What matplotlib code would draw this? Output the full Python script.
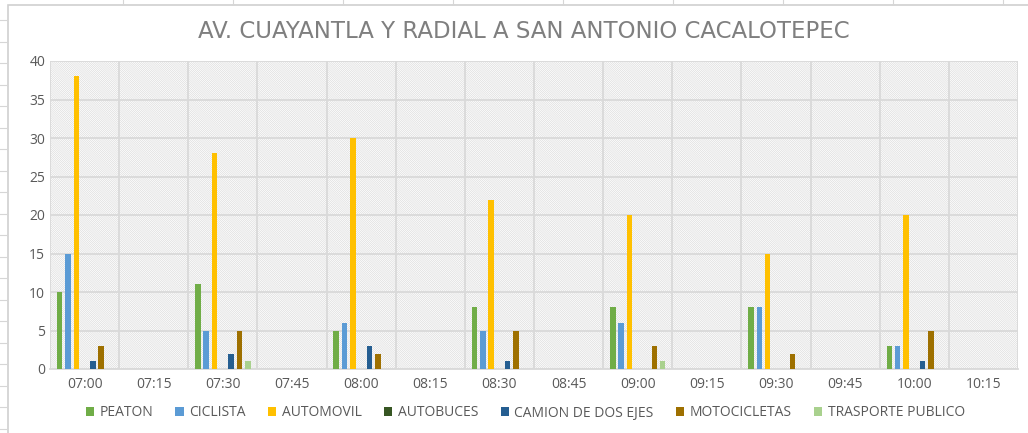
import numpy as np
import matplotlib
matplotlib.use("Agg")
import matplotlib.pyplot as plt
from matplotlib.patches import Rectangle
from matplotlib.lines import Line2D

plt.rcParams['font.family'] = ['Open Sans', 'DejaVu Sans']

# data
horas = ["07:00", "07:15", "07:30", "07:45", "08:00", "08:15", "08:30",
         "08:45", "09:00", "09:15", "09:30", "09:45", "10:00", "10:15"]
peaton = [10, 0, 11, 0, 5, 0, 8, 0, 8, 0, 8, 0, 3, 0]
ciclista = [15, 0, 5, 0, 6, 0, 5, 0, 6, 0, 8, 0, 3, 0]
automovil = [38, 0, 28, 0, 30, 0, 22, 0, 20, 0, 15, 0, 20, 0]
autobuces = [0, 0, 0, 0, 0, 0, 0, 0, 0, 0, 0, 0, 0, 0]
camion = [1, 0, 2, 0, 3, 0, 1, 0, 0, 0, 0, 0, 1, 0]
motos = [3, 0, 5, 0, 2, 0, 5, 0, 3, 0, 2, 0, 5, 0]
trasporte = [0, 0, 1, 0, 0, 0, 0, 0, 1, 0, 0, 0, 0, 0]

series = ["PEATON", "CICLISTA", "AUTOMOVIL", "AUTOBUCES",
          "CAMION DE DOS EJES", "MOTOCICLETAS", "TRASPORTE PUBLICO"]
valores = [peaton, ciclista, automovil, autobuces, camion, motos, trasporte]
colores = ["#70AD47", "#5B9BD5", "#FFC000", "#375623",
           "#255E91", "#9E7000", "#A9D18E"]

fig = plt.figure(figsize=(10.28, 4.33), dpi=100)
ax = fig.add_axes([50 / 1028, 64 / 433, 968 / 1028, 308 / 433])

# spreadsheet remnants and chart border
fig.add_artist(Rectangle((8 / 1028, -0.1), 1.2, (433 - 5) / 433 + 0.1,
                         transform=fig.transFigure, fill=False,
                         edgecolor="#d0d0d0", linewidth=1.2))
for yy in np.arange(20, 433, 21.5):
    fig.add_artist(Line2D([0, 6 / 1028], [1 - yy / 433] * 2,
                          transform=fig.transFigure, color="#d6d6d6", lw=0.8))
for xx in np.arange(123, 1028, 110):
    fig.add_artist(Line2D([xx / 1028] * 2, [1, 1 - 4 / 433],
                          transform=fig.transFigure, color="#d6d6d6", lw=0.8))

# hatched plot background
plt.rcParams['hatch.color'] = "#dadada"
plt.rcParams['hatch.linewidth'] = 0.45
ax.add_patch(Rectangle((0, 0), 1, 1, transform=ax.transAxes,
                       facecolor="white", hatch="\\" * 16,
                       edgecolor="#dadada", linewidth=0, zorder=0))

x = np.arange(len(horas))
paso = 0.12
ancho = 0.08
for i, (nombre, vals, c) in enumerate(zip(series, valores, colores)):
    ax.bar(x + (i - 3) * paso, vals, ancho, color=c, label=nombre, zorder=3)

ax.set_xlim(-0.5, len(horas) - 0.5)
ax.set_ylim(0, 40)
ax.set_yticks(range(0, 41, 5))
ax.set_xticks(x)
ax.set_xticklabels(horas)
ax.set_xticks(np.arange(-0.5, len(horas), 1), minor=True)
ax.grid(axis="y", which="major", color="#d9d9d9", lw=1.3, zorder=1)
ax.grid(axis="x", which="minor", color="#d9d9d9", lw=1.3, zorder=1)
ax.tick_params(axis="both", which="both", length=0, labelsize=10,
               labelcolor="#595959")
ax.tick_params(axis="x", pad=6)
for s in ["top", "right", "left"]:
    ax.spines[s].set_visible(False)
ax.spines["bottom"].set_color("#d9d9d9")
ax.spines["bottom"].set_linewidth(1.3)
ax.set_axisbelow(True)

fig.text(0.51, 1 - 32 / 433, "AV. CUAYANTLA Y RADIAL A SAN ANTONIO CACALOTEPEC",
         ha="center", va="center", fontsize=16.5, color="#7f7f7f",
         family="DejaVu Sans")

fig.legend(loc="center", bbox_to_anchor=(0.511, 1 - 413 / 433), ncol=7,
           frameon=False, fontsize=10, labelcolor="#595959",
           handlelength=0.6, handleheight=0.6, handletextpad=0.4,
           columnspacing=1.6)

fig.savefig("out.png", dpi=100)
